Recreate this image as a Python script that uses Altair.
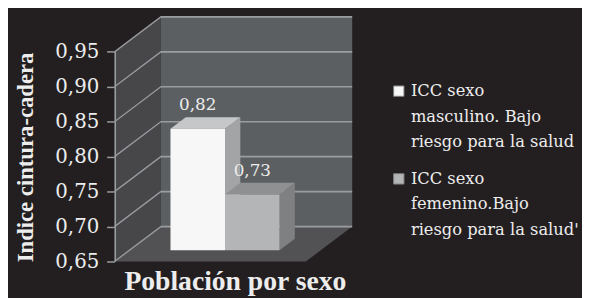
import json
import altair as alt
import pandas as pd

# ---------------- data ----------------
categories = [
    "ICC sexo masculino. Bajo riesgo para la salud",
    "ICC sexo femenino.Bajo riesgo para la salud'",
]
legend_lines = [
    ["ICC sexo", "masculino. Bajo", "riesgo para la salud"],
    ["ICC sexo", "femenino.Bajo", "riesgo para la salud'"],
]
values = [0.824, 0.73]
y_ticks = [0.65, 0.70, 0.75, 0.80, 0.85, 0.90, 0.95]
y_title = "Indice cintura-cadera"
x_title = "Población por sexo"

# ---------------- style / layout ----------------
front_colors = ["#f7f7f7", "#b3b5b7"]
top_colors = ["#c6c7c8", "#8e9092"]
side_colors = ["#a2a4a6", "#7e8082"]
BG = "#231f20"
SIDE_WALL = "#47474a"
BACK_WALL = "#5c5f62"
FLOOR = "#525254"
GRID = "#9a9da0"
TEXT = "#ededed"
FONT = "Liberation Serif"
FONT_REG = "DejaVu Serif"

DX = 0.242          # depth offset, x units (category width = 1)
DY = 0.05           # depth offset, value units
F0, F1 = 0.32, 0.65  # bar depth (fraction of total depth)
EDGE = 0.215        # gap at each side of the bar group
LW_Y = 0.0024       # grid line thickness (value units)
LW_X = 0.008        # edge line thickness (x units)
Y0, YT = y_ticks[0], y_ticks[-1]
BW = (1 - 2 * EDGE) / len(values)

# ---------------- geometry (walls + grid in one table, drawn in row order) ----------------
wall_rows = [
    dict(piece="a_side", x=0, lo=Y0, hi=YT, col=SIDE_WALL),
    dict(piece="a_side", x=DX, lo=Y0 + DY, hi=YT + DY, col=SIDE_WALL),
    dict(piece="b_back", x=DX, lo=Y0 + DY, hi=YT + DY, col=BACK_WALL),
    dict(piece="b_back", x=1 + DX, lo=Y0 + DY, hi=YT + DY, col=BACK_WALL),
    dict(piece="c_floor", x=0, lo=Y0, hi=Y0, col=FLOOR),
    dict(piece="c_floor", x=DX, lo=Y0, hi=Y0 + DY, col=FLOOR),
    dict(piece="c_floor", x=1, lo=Y0, hi=Y0 + DY, col=FLOOR),
    dict(piece="c_floor", x=1 + DX, lo=Y0 + DY, hi=Y0 + DY, col=FLOOR),
]
for j, t in enumerate(y_ticks):
    g = f"d_grid{j}"
    wall_rows += [
        dict(piece=g, x=0, lo=t - LW_Y / 2, hi=t + LW_Y / 2, col=GRID),
        dict(piece=g, x=DX, lo=t + DY - LW_Y / 2, hi=t + DY + LW_Y / 2, col=GRID),
        dict(piece=g, x=1 + DX, lo=t + DY - LW_Y / 2, hi=t + DY + LW_Y / 2, col=GRID),
    ]
wall_rows += [
    dict(piece="e_edge", x=0, lo=Y0, hi=YT, col=GRID),
    dict(piece="e_edge", x=LW_X, lo=Y0, hi=YT, col=GRID),
]
walls = pd.DataFrame(wall_rows)

front_rows, top_rows, side_rows, label_rows = [], [], [], []
for i, (c, v) in enumerate(zip(categories, values)):
    xl = EDGE + i * BW
    xr = xl + BW
    front_rows.append(dict(cat=c, x=xl + F0 * DX, x2=xr + F0 * DX,
                           y=Y0 + F0 * DY, y2=v + F0 * DY))
    top_rows += [
        dict(b=str(i), x=xl + F0 * DX, lo=v + F0 * DY, hi=v + F0 * DY, col=top_colors[i]),
        dict(b=str(i), x=xl + F1 * DX, lo=v + F0 * DY, hi=v + F1 * DY, col=top_colors[i]),
        dict(b=str(i), x=xr + F0 * DX, lo=v + F0 * DY, hi=v + F1 * DY, col=top_colors[i]),
        dict(b=str(i), x=xr + F1 * DX, lo=v + F1 * DY, hi=v + F1 * DY, col=top_colors[i]),
    ]
    side_rows += [
        dict(b=str(i), x=xr + F0 * DX, lo=Y0 + F0 * DY, hi=v + F0 * DY, col=side_colors[i]),
        dict(b=str(i), x=xr + F1 * DX, lo=Y0 + F1 * DY, hi=v + F1 * DY, col=side_colors[i]),
    ]
    label_rows.append(dict(x=(xl + xr) / 2 + F0 * DX, y=v + F1 * DY, v=v))

front = pd.DataFrame(front_rows)
tops = pd.DataFrame(top_rows)
sides = pd.DataFrame(side_rows)
labels = pd.DataFrame(label_rows)

# ---------------- scales / axes ----------------
xscale = alt.Scale(domain=[0, 1 + DX], nice=False, zero=False)
yscale = alt.Scale(domain=[Y0, YT + DY], nice=False, zero=False)

x_axis = alt.Axis(
    title=x_title, labels=False, ticks=False, domain=False, grid=False,
    titleFont=FONT, titleFontSize=28, titleFontWeight="bold", titleColor=TEXT,
    titleX=122, titleY=20, titleAlign="center", titleBaseline="middle",
)
y_axis = alt.Axis(
    title=y_title, values=y_ticks, grid=False, domain=False,
    ticks=True, tickSize=8, tickColor=GRID, tickWidth=1.5,
    labelExpr="replace(format(datum.value, '.2f'), '.', ',')",
    labelFont=FONT_REG, labelFontSize=20, labelColor=TEXT, labelPadding=8,
    titleFont=FONT, titleFontSize=23, titleFontWeight="bold", titleColor=TEXT,
    titleAngle=270, titleX=-90, titleY=142, titleAlign="center", titleBaseline="middle",
)


def X(field):
    return alt.X(field, type="quantitative", scale=xscale, axis=x_axis)


def Y(field):
    return alt.Y(field, type="quantitative", scale=yscale, axis=y_axis)


def polygons(df, group):
    return alt.Chart(df).mark_area(opacity=1).encode(
        x=X("x"), y=Y("lo"), y2="hi",
        fill=alt.Fill("col:N", scale=None, legend=None),
        detail=f"{group}:N",
    )


wall_layer = polygons(walls, "piece")
side_layer = polygons(sides, "b")
top_layer = polygons(tops, "b")

label_expr = " : ".join(
    [f"datum.label === {json.dumps(c)} ? {json.dumps(l)}" for c, l in zip(categories[:-1], legend_lines[:-1])]
    + [json.dumps(legend_lines[-1])]
)

front_layer = alt.Chart(front).mark_rect().encode(
    x=X("x"), x2="x2", y=Y("y"), y2="y2",
    color=alt.Color(
        "cat:N",
        scale=alt.Scale(domain=categories, range=front_colors),
        legend=alt.Legend(
            title=None, orient="none", legendX=280, legendY=67,
            symbolType="square", symbolSize=110, symbolStrokeColor="#808080",
            symbolStrokeWidth=1,
            labelFont=FONT_REG, labelFontSize=16.5, labelColor=TEXT, labelLimit=320,
            labelExpr=label_expr, rowPadding=20, padding=0, labelOffset=4,
        ),
    ),
)

text_layer = alt.Chart(labels).transform_calculate(
    txt="replace(format(datum.v, '.2f'), '.', ',')"
).mark_text(
    font=FONT_REG, fontSize=17, color=TEXT, baseline="bottom", align="center", dy=-3,
).encode(x=X("x"), y=Y("y"), text="txt:N")

chart = alt.layer(
    wall_layer, side_layer, top_layer, front_layer, text_layer
).properties(
    width=241, height=248,
    autosize=alt.AutoSizeParams(type="none"),
    padding={"left": 108, "top": 7, "right": 233, "bottom": 35},
    background=BG,
).configure(
    style={"guide-label": {"lineHeight": 26}},
).configure_view(stroke=None)

chart.save("out.html", embed_options={"renderer": "svg", "actions": False})
